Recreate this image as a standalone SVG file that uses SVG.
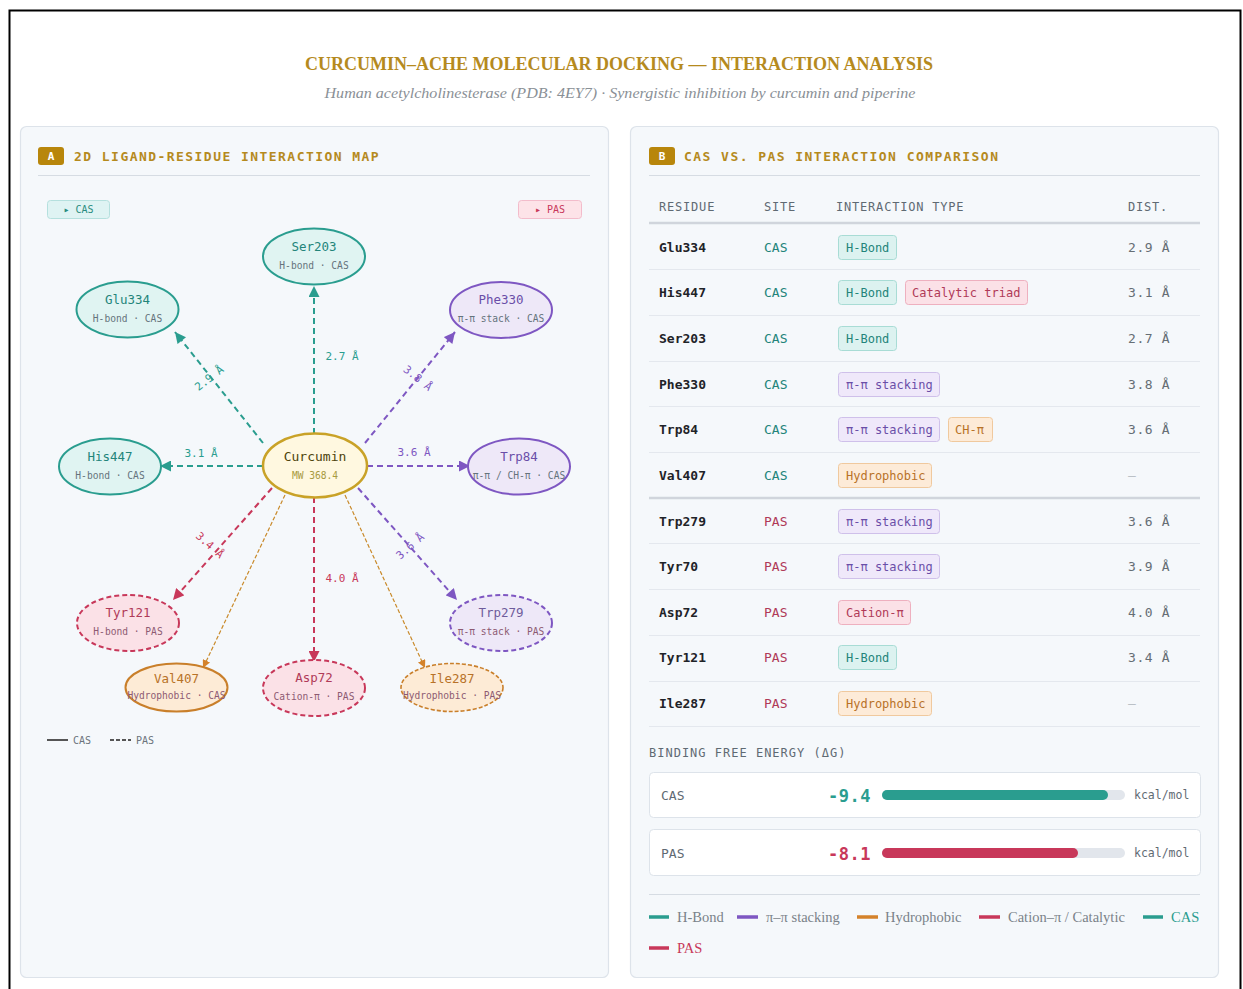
<svg xmlns="http://www.w3.org/2000/svg" width="1243" height="989" viewBox="0 0 1243 989">
<style>
.mono{font-family:'DejaVu Sans Mono','Liberation Mono',monospace}
.serif{font-family:'Liberation Serif','DejaVu Serif',serif}
.panel{fill:#f5f8fb;stroke:#dde3ea;stroke-width:1.2}
.ptitle{font-size:13px;letter-spacing:1.45px;fill:#b58a1e;font-weight:bold}
.badge{fill:#b8860b}
.badgetxt{font-size:11px;fill:#fff;font-weight:bold}
.div{stroke:#d6dce3;stroke-width:1.2}
.nname{font-size:12.5px}
.nsub{font-size:9.6px}
.teal-n{fill:#e0f4f2;stroke:#2a9d8f;stroke-width:2}
.purp-n{fill:#eee8f8;stroke:#7e57c2;stroke-width:2}
.pink-n{fill:#fbe1e7;stroke:#c8385a;stroke-width:2;stroke-dasharray:5 3}
.purpd-n{fill:#eee8f8;stroke:#7e57c2;stroke-width:2;stroke-dasharray:5 3}
.orng-n{fill:#fdebd6;stroke:#c97f2a;stroke-width:2}
.orngd-n{fill:#fdebd6;stroke:#c97f2a;stroke-width:1.6;stroke-dasharray:4 2}
.c-teal{fill:#23847a}.c-purp{fill:#6a4ea8}.c-pink{fill:#b03a58}.c-orng{fill:#b87228}
.s-cas{fill:#65737c}.s-pas{fill:#8d5a72}
.edge{fill:none;stroke-width:2;stroke-dasharray:6 4}
.thin{fill:none;stroke-width:1.2;stroke-dasharray:4 2}
.dlab{font-size:11px;text-anchor:middle}
.th{font-size:12px;letter-spacing:0.8px;fill:#5f6a73}
.res{font-size:13px;font-weight:bold;fill:#1f2328}
.site{font-size:13px}
.dist{font-size:13px;letter-spacing:0.6px;fill:#666e75}
.pilltxt{font-size:12px}
.p-hb{fill:#dcf2f0;stroke:#a8dcd5}
.p-pi{fill:#efe8fa;stroke:#cfc0ea}
.p-hy{fill:#fdebd8;stroke:#f0c99e}
.p-ca{fill:#fbe1e7;stroke:#eeb0bf}
.rowline{stroke:#e4e8ee;stroke-width:1}
.leg{font-size:14.5px;fill:#7a8289}
</style>
<defs>
<marker id="ah-teal" viewBox="0 0 10 10" refX="10" refY="5" markerWidth="12" markerHeight="11" markerUnits="userSpaceOnUse" orient="auto"><path d="M0,0 L10,5 L0,10 z" fill="#2a9d8f"/></marker>
<marker id="ah-purp" viewBox="0 0 10 10" refX="10" refY="5" markerWidth="12" markerHeight="11" markerUnits="userSpaceOnUse" orient="auto"><path d="M0,0 L10,5 L0,10 z" fill="#7e57c2"/></marker>
<marker id="ah-pink" viewBox="0 0 10 10" refX="10" refY="5" markerWidth="12" markerHeight="11" markerUnits="userSpaceOnUse" orient="auto"><path d="M0,0 L10,5 L0,10 z" fill="#c8385a"/></marker>
<marker id="ah-orng" viewBox="0 0 10 10" refX="10" refY="5" markerWidth="8" markerHeight="8" markerUnits="userSpaceOnUse" orient="auto"><path d="M0,0 L10,5 L0,10 z" fill="#d4822a"/></marker>
</defs>
<rect x="0" y="0" width="1243" height="989" fill="#ffffff"/>
<rect x="9.5" y="10.5" width="1231" height="1000" fill="none" stroke="#000" stroke-width="2"/>

<g id="header">
<text x="619" y="70" text-anchor="middle" class="serif" font-size="18" font-weight="bold" fill="#b58a1e" textLength="628" lengthAdjust="spacingAndGlyphs">CURCUMIN–ACHE MOLECULAR DOCKING — INTERACTION ANALYSIS</text>
<text x="620" y="98" text-anchor="middle" class="serif" font-size="15" font-style="italic" fill="#8a9096" textLength="591" lengthAdjust="spacingAndGlyphs">Human acetylcholinesterase (PDB: 4EY7) · Synergistic inhibition by curcumin and piperine</text>
</g>

<g id="panel-a">
<rect class="panel" x="20.5" y="126.5" width="588" height="851" rx="6"/>
<rect class="badge" x="38" y="147" width="26" height="18" rx="3"/>
<text class="mono badgetxt" x="51" y="160" text-anchor="middle">A</text>
<text class="mono ptitle" x="74" y="161">2D LIGAND-RESIDUE INTERACTION MAP</text>
<line class="div" x1="38" y1="175.5" x2="590" y2="175.5"/>
<rect x="47.5" y="200.5" width="62" height="18" rx="3" fill="#dff3f3" stroke="#b5e0de"/>
<text class="mono" x="78.5" y="213" text-anchor="middle" font-size="10" fill="#2a8c80">▸ CAS</text>
<rect x="518.5" y="200.5" width="63" height="18" rx="3" fill="#fde3e8" stroke="#f3bccb"/>
<text class="mono" x="550" y="213" text-anchor="middle" font-size="10" fill="#c8385a">▸ PAS</text>
<line x1="47" y1="740" x2="68" y2="740" stroke="#555" stroke-width="2"/>
<text class="mono" x="73" y="744" font-size="10" fill="#6b747c">CAS</text>
<line x1="110" y1="740" x2="131" y2="740" stroke="#555" stroke-width="2" stroke-dasharray="4 2"/>
<text class="mono" x="136" y="744" font-size="10" fill="#6b747c">PAS</text>
</g>

<g id="connectors">
<line class="edge" stroke="#2a9d8f" x1="314" y1="434" x2="314" y2="286" marker-end="url(#ah-teal)"/>
<line class="edge" stroke="#2a9d8f" x1="263" y1="443" x2="175" y2="332" marker-end="url(#ah-teal)"/>
<line class="edge" stroke="#2a9d8f" x1="263" y1="466" x2="160" y2="466" marker-end="url(#ah-teal)"/>
<line class="edge" stroke="#7e57c2" x1="365" y1="443" x2="455" y2="332" marker-end="url(#ah-purp)"/>
<line class="edge" stroke="#7e57c2" x1="367" y1="466" x2="470" y2="466" marker-end="url(#ah-purp)"/>
<line class="edge" stroke="#c8385a" x1="272" y1="488" x2="173" y2="600" marker-end="url(#ah-pink)"/>
<line class="edge" stroke="#7e57c2" x1="358" y1="488" x2="457" y2="600" marker-end="url(#ah-purp)"/>
<line class="edge" stroke="#c8385a" x1="314" y1="497" x2="314" y2="662" marker-end="url(#ah-pink)"/>
<line class="thin" stroke="#c98a2a" x1="285" y1="495" x2="203" y2="668" marker-end="url(#ah-orng)"/>
<line class="thin" stroke="#c98a2a" x1="345" y1="495" x2="425" y2="668" marker-end="url(#ah-orng)"/>
<text class="mono dlab" fill="#2a9d8f" x="342" y="360">2.7 Å</text>
<text class="mono dlab" fill="#2a9d8f" x="209" y="382" transform="rotate(-38 209 378)">2.9 Å</text>
<text class="mono dlab" fill="#2a9d8f" x="201" y="457">3.1 Å</text>
<text class="mono dlab" fill="#7e57c2" x="418" y="382" transform="rotate(39 418 378)">3.8 Å</text>
<text class="mono dlab" fill="#7e57c2" x="414" y="456">3.6 Å</text>
<text class="mono dlab" fill="#c8385a" x="210" y="549" transform="rotate(41.5 210 545)">3.4 Å</text>
<text class="mono dlab" fill="#7e57c2" x="410" y="550" transform="rotate(-41.5 410 546)">3.6 Å</text>
<text class="mono dlab" fill="#c8385a" x="342" y="582">4.0 Å</text>
</g>

<g id="node-curcumin">
<ellipse cx="315" cy="465.5" rx="52" ry="32" fill="#fff8e0" stroke="#c9a227" stroke-width="2.5"/>
<text class="mono" x="315" y="461" text-anchor="middle" font-size="13" fill="#4e430c">Curcumin</text>
<text class="mono" x="315" y="479" text-anchor="middle" font-size="9.6" fill="#a89a40">MW 368.4</text>
</g>
<g id="node-ser203">
<ellipse class="teal-n" cx="314" cy="256.5" rx="51" ry="28"/>
<text class="mono nname c-teal" x="314" y="251" text-anchor="middle">Ser203</text>
<text class="mono nsub s-cas" x="314" y="269" text-anchor="middle">H-bond · CAS</text>
</g>
<g id="node-glu334">
<ellipse class="teal-n" cx="127.5" cy="309.5" rx="51" ry="28"/>
<text class="mono nname c-teal" x="127.5" y="304" text-anchor="middle">Glu334</text>
<text class="mono nsub s-cas" x="127.5" y="322" text-anchor="middle">H-bond · CAS</text>
</g>
<g id="node-phe330">
<ellipse class="purp-n" cx="501" cy="310" rx="51" ry="28"/>
<text class="mono nname c-purp" x="501" y="304" text-anchor="middle">Phe330</text>
<text class="mono nsub s-cas" x="501" y="322" text-anchor="middle">π-π stack · CAS</text>
</g>
<g id="node-his447">
<ellipse class="teal-n" cx="110" cy="466.5" rx="51" ry="28"/>
<text class="mono nname c-teal" x="110" y="461" text-anchor="middle">His447</text>
<text class="mono nsub s-cas" x="110" y="479" text-anchor="middle">H-bond · CAS</text>
</g>
<g id="node-trp84">
<ellipse class="purp-n" cx="519" cy="466.5" rx="51" ry="28"/>
<text class="mono nname c-purp" x="519" y="461" text-anchor="middle">Trp84</text>
<text class="mono nsub s-cas" x="519" y="479" text-anchor="middle">π-π / CH-π · CAS</text>
</g>
<g id="node-tyr121">
<ellipse class="pink-n" cx="128" cy="623" rx="51" ry="28"/>
<text class="mono nname c-pink" x="128" y="617" text-anchor="middle">Tyr121</text>
<text class="mono nsub s-pas" x="128" y="635" text-anchor="middle">H-bond · PAS</text>
</g>
<g id="node-trp279">
<ellipse class="purpd-n" cx="501" cy="623" rx="51" ry="28"/>
<text class="mono nname" fill="#6e5c9c" x="501" y="617" text-anchor="middle">Trp279</text>
<text class="mono nsub s-pas" x="501" y="635" text-anchor="middle">π-π stack · PAS</text>
</g>
<g id="node-val407">
<ellipse class="orng-n" cx="176.5" cy="687.5" rx="51" ry="24"/>
<text class="mono nname c-orng" x="176.5" y="683" text-anchor="middle">Val407</text>
<text class="mono nsub s-pas" x="176.5" y="699" text-anchor="middle">Hydrophobic · CAS</text>
</g>
<g id="node-asp72">
<ellipse class="pink-n" cx="314" cy="688" rx="51" ry="28"/>
<text class="mono nname c-pink" x="314" y="682" text-anchor="middle">Asp72</text>
<text class="mono nsub s-pas" x="314" y="700" text-anchor="middle">Cation-π · PAS</text>
</g>
<g id="node-ile287">
<ellipse class="orngd-n" cx="452" cy="687.5" rx="51" ry="24"/>
<text class="mono nname c-orng" x="452" y="683" text-anchor="middle">Ile287</text>
<text class="mono nsub s-pas" x="452" y="699" text-anchor="middle">Hydrophobic · PAS</text>
</g>

<g id="panel-b">
<rect class="panel" x="630.5" y="126.5" width="588" height="851" rx="6"/>
<rect class="badge" x="649" y="147" width="26" height="18" rx="3"/>
<text class="mono badgetxt" x="662" y="160" text-anchor="middle" font-size="10">B</text>
<text class="mono ptitle" x="684" y="161">CAS VS. PAS INTERACTION COMPARISON</text>
<line class="div" x1="649" y1="175.5" x2="1200" y2="175.5"/>

<g id="table-head">
<text class="mono th" x="659" y="211">RESIDUE</text>
<text class="mono th" x="764" y="211">SITE</text>
<text class="mono th" x="836" y="211">INTERACTION TYPE</text>
<text class="mono th" x="1128" y="211">DIST.</text>
<line x1="649" y1="223" x2="1200" y2="223" stroke="#d0d5dc" stroke-width="2.5"/>
</g>

<g id="table-lines">
<line class="rowline" x1="649" y1="269.5" x2="1200" y2="269.5"/>
<line class="rowline" x1="649" y1="315.5" x2="1200" y2="315.5"/>
<line class="rowline" x1="649" y1="361.5" x2="1200" y2="361.5"/>
<line class="rowline" x1="649" y1="406.5" x2="1200" y2="406.5"/>
<line class="rowline" x1="649" y1="452.5" x2="1200" y2="452.5"/>
<line x1="649" y1="498" x2="1200" y2="498" stroke="#d0d5dc" stroke-width="2.5"/>
<line class="rowline" x1="649" y1="543.5" x2="1200" y2="543.5"/>
<line class="rowline" x1="649" y1="589.5" x2="1200" y2="589.5"/>
<line class="rowline" x1="649" y1="635.5" x2="1200" y2="635.5"/>
<line class="rowline" x1="649" y1="681.5" x2="1200" y2="681.5"/>
<line class="rowline" x1="649" y1="726.5" x2="1200" y2="726.5"/>
</g>

<g id="row-glu334">
<text class="mono res" x="659" y="252">Glu334</text>
<text class="mono site c-teal" x="764" y="252">CAS</text>
<rect class="p-hb" x="838.5" y="235.5" width="58" height="24" rx="3"/>
<text class="mono pilltxt c-teal" x="846" y="252">H-Bond</text>
<text class="mono dist" x="1128" y="252">2.9 Å</text>
</g>
<g id="row-his447">
<text class="mono res" x="659" y="297">His447</text>
<text class="mono site c-teal" x="764" y="297">CAS</text>
<rect class="p-hb" x="838.5" y="280.5" width="58" height="24" rx="3"/>
<text class="mono pilltxt c-teal" x="846" y="297">H-Bond</text>
<rect class="p-ca" x="905.5" y="280.5" width="122" height="24" rx="3"/>
<text class="mono pilltxt c-pink" x="912" y="297">Catalytic triad</text>
<text class="mono dist" x="1128" y="297">3.1 Å</text>
</g>
<g id="row-ser203">
<text class="mono res" x="659" y="343">Ser203</text>
<text class="mono site c-teal" x="764" y="343">CAS</text>
<rect class="p-hb" x="838.5" y="326.5" width="58" height="24" rx="3"/>
<text class="mono pilltxt c-teal" x="846" y="343">H-Bond</text>
<text class="mono dist" x="1128" y="343">2.7 Å</text>
</g>
<g id="row-phe330">
<text class="mono res" x="659" y="389">Phe330</text>
<text class="mono site c-teal" x="764" y="389">CAS</text>
<rect class="p-pi" x="838.5" y="372.5" width="101" height="24" rx="3"/>
<text class="mono pilltxt c-purp" x="846" y="389">π-π stacking</text>
<text class="mono dist" x="1128" y="389">3.8 Å</text>
</g>
<g id="row-trp84">
<text class="mono res" x="659" y="434">Trp84</text>
<text class="mono site c-teal" x="764" y="434">CAS</text>
<rect class="p-pi" x="838.5" y="417.5" width="101" height="24" rx="3"/>
<text class="mono pilltxt c-purp" x="846" y="434">π-π stacking</text>
<rect class="p-hy" x="948.5" y="417.5" width="44" height="24" rx="3"/>
<text class="mono pilltxt c-orng" x="955" y="434">CH-π</text>
<text class="mono dist" x="1128" y="434">3.6 Å</text>
</g>
<g id="row-val407">
<text class="mono res" x="659" y="480">Val407</text>
<text class="mono site c-teal" x="764" y="480">CAS</text>
<rect class="p-hy" x="838.5" y="463.5" width="93" height="24" rx="3"/>
<text class="mono pilltxt c-orng" x="846" y="480">Hydrophobic</text>
<text class="mono dist" x="1128" y="480" fill="#b8bec4" style="fill:#b8bec4">–</text>
</g>
<g id="row-trp279">
<text class="mono res" x="659" y="526">Trp279</text>
<text class="mono site c-pink" x="764" y="526">PAS</text>
<rect class="p-pi" x="838.5" y="509.5" width="101" height="24" rx="3"/>
<text class="mono pilltxt c-purp" x="846" y="526">π-π stacking</text>
<text class="mono dist" x="1128" y="526">3.6 Å</text>
</g>
<g id="row-tyr70">
<text class="mono res" x="659" y="571">Tyr70</text>
<text class="mono site c-pink" x="764" y="571">PAS</text>
<rect class="p-pi" x="838.5" y="554.5" width="101" height="24" rx="3"/>
<text class="mono pilltxt c-purp" x="846" y="571">π-π stacking</text>
<text class="mono dist" x="1128" y="571">3.9 Å</text>
</g>
<g id="row-asp72">
<text class="mono res" x="659" y="617">Asp72</text>
<text class="mono site c-pink" x="764" y="617">PAS</text>
<rect class="p-ca" x="838.5" y="600.5" width="72" height="24" rx="3"/>
<text class="mono pilltxt c-pink" x="846" y="617">Cation-π</text>
<text class="mono dist" x="1128" y="617">4.0 Å</text>
</g>
<g id="row-tyr121">
<text class="mono res" x="659" y="662">Tyr121</text>
<text class="mono site c-pink" x="764" y="662">PAS</text>
<rect class="p-hb" x="838.5" y="645.5" width="58" height="24" rx="3"/>
<text class="mono pilltxt c-teal" x="846" y="662">H-Bond</text>
<text class="mono dist" x="1128" y="662">3.4 Å</text>
</g>
<g id="row-ile287">
<text class="mono res" x="659" y="708">Ile287</text>
<text class="mono site c-pink" x="764" y="708">PAS</text>
<rect class="p-hy" x="838.5" y="691.5" width="93" height="24" rx="3"/>
<text class="mono pilltxt c-orng" x="846" y="708">Hydrophobic</text>
<text class="mono dist" x="1128" y="708" style="fill:#b8bec4">–</text>
</g>

<g id="energy">
<text class="mono th" x="649" y="757" style="letter-spacing:1px">BINDING FREE ENERGY (ΔG)</text>
<rect x="649.5" y="772.5" width="551" height="45" rx="4" fill="#fff" stroke="#dde3ea"/>
<text class="mono" x="661" y="800" font-size="13" fill="#5f6a73">CAS</text>
<text class="mono" x="871" y="802" text-anchor="end" font-size="17" font-weight="bold" letter-spacing="0.5" fill="#2a9d8f">-9.4</text>
<rect x="882" y="790" width="243" height="10" rx="5" fill="#e2e6ec"/>
<rect x="882" y="790" width="226" height="10" rx="5" fill="#2a9d8f"/>
<text class="mono" x="1134" y="799" font-size="11.5" fill="#5f6a73">kcal/mol</text>
<rect x="649.5" y="829.5" width="551" height="46" rx="4" fill="#fff" stroke="#dde3ea"/>
<text class="mono" x="661" y="858" font-size="13" fill="#5f6a73">PAS</text>
<text class="mono" x="871" y="860" text-anchor="end" font-size="17" font-weight="bold" letter-spacing="0.5" fill="#c8385a">-8.1</text>
<rect x="882" y="848" width="243" height="10" rx="5" fill="#e2e6ec"/>
<rect x="882" y="848" width="196" height="10" rx="5" fill="#c8385a"/>
<text class="mono" x="1134" y="857" font-size="11.5" fill="#5f6a73">kcal/mol</text>
<line class="div" x1="649" y1="894.5" x2="1200" y2="894.5"/>
</g>

<g id="legend">
<line x1="649" y1="917" x2="669" y2="917" stroke="#2a9d8f" stroke-width="3.5"/>
<text class="serif leg" x="677" y="922">H-Bond</text>
<line x1="737" y1="917" x2="758" y2="917" stroke="#7e57c2" stroke-width="3.5"/>
<text class="serif leg" x="766" y="922">π–π stacking</text>
<line x1="857" y1="917" x2="878" y2="917" stroke="#d4822a" stroke-width="3.5"/>
<text class="serif leg" x="885" y="922">Hydrophobic</text>
<line x1="979" y1="917" x2="1000" y2="917" stroke="#c8385a" stroke-width="3.5"/>
<text class="serif leg" x="1008" y="922">Cation–π / Catalytic</text>
<line x1="1143" y1="917" x2="1163" y2="917" stroke="#2a9d8f" stroke-width="3.5"/>
<text class="serif leg" x="1171" y="922" style="fill:#2a9d8f">CAS</text>
<line x1="649" y1="948" x2="669" y2="948" stroke="#c8385a" stroke-width="3.5"/>
<text class="serif leg" x="677" y="953" style="fill:#c8385a">PAS</text>
</g>
</g>
</svg>
